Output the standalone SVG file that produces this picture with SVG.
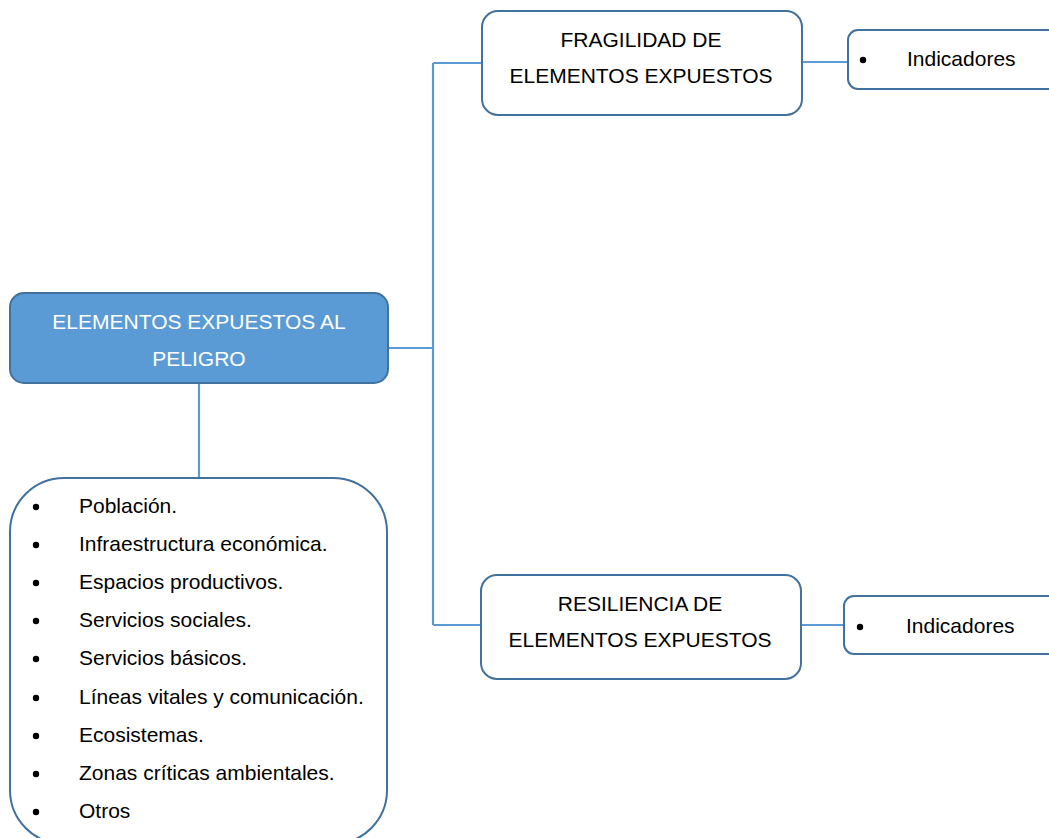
<svg xmlns="http://www.w3.org/2000/svg" width="1049" height="838" viewBox="0 0 1049 838">
<style>
text{font-family:"Liberation Sans",Arial,sans-serif;font-size:21px;fill:#000}
.box{fill:#fff;stroke:#41719C;stroke-width:2}
.main{fill:#5B9BD5;stroke:#41719C;stroke-width:2}
.c{fill:none;stroke:#5B9BD5;stroke-width:2.2}
.ctr{text-anchor:middle}
.w{fill:#fff}
</style>
<rect width="1049" height="838" fill="#fff"/>
<g id="connectors">
<path class="c" d="M388 348 H433 M433 63 V625 M433 63 H482 M433 625 H482"/>
<path class="c" d="M802 62 H848"/>
<path class="c" d="M801 625 H844"/>
<path class="c" d="M199 383 V478"/>
</g>
<g id="main">
<rect class="main" x="10" y="293" width="378" height="90" rx="14"/>
<text class="ctr w" x="199" y="329">ELEMENTOS EXPUESTOS AL</text>
<text class="ctr w" x="199" y="366">PELIGRO</text>
</g>
<g id="fragilidad">
<rect class="box" x="482" y="11" width="320" height="104" rx="16"/>
<text class="ctr" x="641" y="47">FRAGILIDAD DE</text>
<text class="ctr" x="641" y="83">ELEMENTOS EXPUESTOS</text>
</g>
<g id="indicadores1">
<rect class="box" x="848" y="30" width="230" height="59" rx="10"/>
<circle cx="863" cy="60" r="3.2"/>
<text x="907" y="66">Indicadores</text>
</g>
<g id="resiliencia">
<rect class="box" x="481" y="575" width="320" height="104" rx="16"/>
<text class="ctr" x="640" y="611">RESILIENCIA DE</text>
<text class="ctr" x="640" y="647">ELEMENTOS EXPUESTOS</text>
</g>
<g id="indicadores2">
<rect class="box" x="844" y="596" width="230" height="58" rx="10"/>
<circle cx="860" cy="627" r="3.2"/>
<text x="906" y="633">Indicadores</text>
</g>
<g id="lista">
<rect class="box" x="10" y="478" width="377" height="366" rx="54"/>
<g>
<circle cx="36" cy="507" r="3.2"/><text x="79" y="513">Población.</text>
<circle cx="36" cy="545" r="3.2"/><text x="79" y="551">Infraestructura económica.</text>
<circle cx="36" cy="583" r="3.2"/><text x="79" y="589">Espacios productivos.</text>
<circle cx="36" cy="621" r="3.2"/><text x="79" y="627">Servicios sociales.</text>
<circle cx="36" cy="659" r="3.2"/><text x="79" y="665">Servicios básicos.</text>
<circle cx="36" cy="698" r="3.2"/><text x="79" y="704">Líneas vitales y comunicación.</text>
<circle cx="36" cy="736" r="3.2"/><text x="79" y="742">Ecosistemas.</text>
<circle cx="36" cy="774" r="3.2"/><text x="79" y="780">Zonas críticas ambientales.</text>
<circle cx="36" cy="812" r="3.2"/><text x="79" y="818">Otros</text>
</g>
</g>
</svg>
